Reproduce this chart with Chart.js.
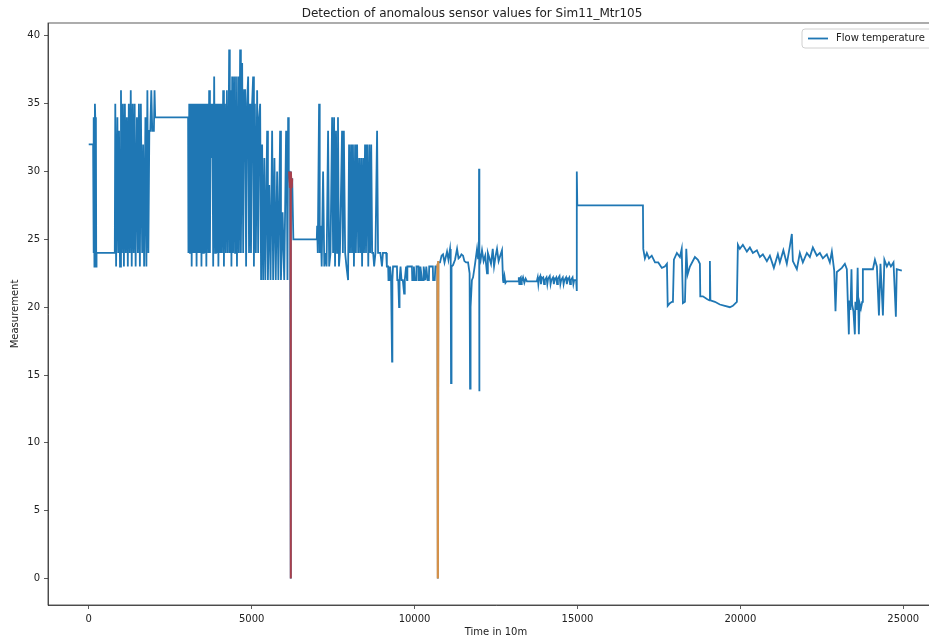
<!DOCTYPE html>
<html><head><meta charset="utf-8">
<script src="https://cdn.jsdelivr.net/npm/chart.js@4.4.1/dist/chart.umd.min.js"></script>
<style>
html,body{margin:0;padding:0;background:#fff;overflow:hidden;width:929px;height:638px}
#wrap{position:relative;width:946px;height:638px}
</style></head>
<body><div id="wrap"><canvas id="c"></canvas></div>
<script>
const chartTitle = 'Detection of anomalous sensor values for Sim11_Mtr105';
const xAxisLabel = 'Time in 10m';
const yAxisLabel = 'Measurement';
const seriesLabel = 'Flow temperature';
const xTickValues = [0, 5000, 10000, 15000, 20000, 25000];
const yTickValues = [0, 5, 10, 15, 20, 25, 30, 35, 40];

const flowSegA = [[0,32],[135,32],[145,24],[160,34],[175,23],[190,35],[205,33.5],[220,34],[230,23],[240,24],[800,24]];
const flowSegB = [[815,35],[840,23],[880,34],[905,24],[930,33],[960,23],[990,36],[1020,24],[1050,35],[1080,23],[1110,35],[1140,24],[1170,34],[1200,23],[1230,35],[1260,24],[1290,36],[1320,23],[1350,35],[1380,24],[1410,35],[1440,23],[1480,34],[1510,24],[1540,35],[1570,23],[1600,35],[1640,24],[1670,32],[1700,23],[1740,34],[1770,23],[1800,36],[1830,24],[1860,33],[1890,33],[1920,36],[1950,33],[2000,33],[2020,36],[2040,34],[3050,34]];
const flowSegC = [[3060,24],[3085,35],[3110,24],[3135,35],[3160,23],[3185,35],[3210,24],[3235,35],[3260,24],[3285,35],[3310,23],[3335,35],[3360,24],[3385,35],[3410,24],[3435,35],[3460,23],[3485,35],[3510,24],[3535,35],[3560,24],[3585,35],[3610,23],[3640,35],[3670,24],[3696,36],[3720,24],[3745,35],[3770,31],[3795,35],[3820,23],[3850,37],[3880,24],[3905,35],[3930,24],[3955,35],[3980,23],[4010,35],[4035,24],[4060,35],[4090,24],[4126,36],[4150,23],[4180,35],[4210,24],[4240,36],[4270,24],[4310,39],[4330,24],[4360,36],[4380,23],[4402,37],[4430,24],[4460,37],[4490,24],[4520,37],[4550,23],[4586,37],[4610,24],[4647,39],[4670,24],[4709,38],[4740,24],[4770,36],[4801,36],[4830,23],[4860,35],[4893,37],[4920,24],[4950,35],[4980,24],[5015,35],[5046,37],[5070,23],[5100,35],[5130,24],[5169,36],[5200,24],[5230,34],[5261,35],[5290,22],[5322,32],[5353,22],[5390,31],[5420,22],[5476,33],[5500,22],[5540,29],[5580,22],[5629,33],[5660,22],[5700,31],[5740,22],[5782,30],[5820,22],[5874,33],[5900,22],[5950,27],[6000,22],[6058,33],[6080,30],[6100,22],[6120,34],[6140,30]];
const flowSegD = [[6160,30],[6180,28.8],[6195,30],[6200,0],[6205,30],[6230,28.8],[6245,29.5],[6280,25],[7000,25]];
const flowSegE = [[7010,26],[7030,24],[7070,35],[7090,24],[7120,26],[7150,23],[7193,30],[7230,23],[7270,24],[7300,23],[7346,33],[7380,23],[7420,24],[7470,34],[7500,24],[7530,34],[7560,23],[7590,33],[7620,24],[7650,34],[7680,23],[7710,24],[7775,33],[7800,24],[7830,33],[7870,24],[7910,23],[7960,22],[7990,32],[8020,24],[8050,32],[8080,24],[8110,32],[8140,23],[8175,32],[8200,24],[8237,32],[8270,24],[8300,31],[8330,24],[8360,31],[8390,23],[8420,31],[8450,24],[8480,32],[8510,24],[8545,32],[8580,23],[8610,32],[8640,24],[8670,32],[8700,24],[8730,24],[8760,23],[8800,24],[8850,33],[8880,24],[8950,24],[9000,23],[9030,24],[9130,24],[9150,23]];
const flowSegF = [[9190,23],[9200,22],[9240,22],[9250,23],[9280,22],[9310,16],[9320,22],[9340,23],[9460,23],[9470,22],[9500,22],[9525,20],[9540,22],[9570,23],[9600,22],[9640,22],[9680,21],[9700,22],[9740,23],[9770,22],[9780,23],[9920,23],[9930,22],[9970,22],[9980,23],[10010,22],[10050,22],[10060,23],[10120,23],[10130,22],[10170,22],[10180,23],[10230,22],[10270,22],[10280,23],[10330,22],[10360,23],[10400,22],[10440,22],[10450,23],[10560,23],[10570,22],[10620,22],[10640,23],[10700,23],[10715,0],[10730,23.3]];
const flowSegG = [[10782,23.3],[10830,23.8],[10874,23.9],[10920,23.3],[10997,24.1],[11040,23.5],[11090,24.3],[11110,23.5],[11120,14.4],[11135,23],[11180,23.1],[11243,23.5],[11305,24.3],[11350,23.6],[11397,23.7],[11440,23.9],[11489,23.8],[11530,23.4],[11581,23.3],[11643,23.3],[11690,22.5],[11704,14.0],[11720,20],[11760,22],[11796,22.2],[11857,23.2],[11918,24.3],[11949,23.6],[11975,24],[11980,30.2],[11985,13.8],[11995,24],[12030,23.5],[12071,24.2],[12120,23.4],[12170,23.8],[12224,22.5],[12250,24],[12300,23.6],[12347,23.2],[12400,24.3],[12440,23],[12490,23.8],[12531,24.3],[12580,23.4],[12630,23.8],[12684,24.2],[12715,22]];
const flowSegH = [[12730,21.8],[12760,22.3],[12790,21.8],[12820,21.9],[13180,21.9],[13200,22.2],[13215,21.7],[13230,22.1],[13260,22.2],[13275,21.7],[13290,21.9],[13330,22.2],[13370,21.8],[13410,22.1],[13450,21.9],[13750,21.9],[13780,22.2],[13800,21.7],[13820,22.1],[13860,22.3],[13880,21.7],[13900,22.1],[13950,22.2],[13975,21.7],[14000,22.0],[14050,22.2],[14075,21.7],[14100,22.1],[14150,22.3],[14175,21.7],[14200,22.0],[14250,22.2],[14275,21.7],[14300,22.0],[14350,22.2],[14375,21.7],[14400,22.1],[14450,22.3],[14475,21.7],[14500,22.0],[14550,22.2],[14575,21.7],[14600,22.0],[14650,22.2],[14675,21.7],[14700,22.0],[14750,22.2],[14775,21.7],[14800,22.0],[14850,22.2],[14875,21.7],[14900,22.0],[14960,22.0],[14975,21.2],[14985,30.0],[14995,27.5],[17010,27.5]];
const flowSegI = [[17020,24.3],[17070,23.6],[17130,24],[17195,23.6],[17280,23.8],[17380,23.3],[17480,23.3],[17590,22.9],[17680,23],[17746,23.2],[17770,20.1],[17837,20.3],[17900,20.4],[17930,20.4],[17960,23.5],[18052,24],[18145,23.7],[18200,24.3],[18237,20.3],[18300,20.4],[18340,24.3],[18380,22.4],[18452,23],[18605,23.7],[18697,23.5],[18758,23.2],[18770,20.8],[18850,20.8],[18973,20.6],[19050,20.5],[19065,23.4],[19080,20.5],[19218,20.4],[19371,20.2],[19524,20.1],[19678,20.0],[19770,20.1],[19893,20.4],[19924,24.6],[19985,24.3],[20077,24.6],[20200,24.1],[20292,24.4],[20384,24.0],[20507,24.2],[20599,23.7],[20691,23.9],[20814,23.4],[20906,23.8],[21028,22.9],[21151,23.9],[21212,23.3],[21320,24.2],[21426,23.2],[21520,24.5],[21580,25.4],[21611,23.4],[21734,22.8],[21826,24.0],[21918,23.3],[22041,24.0],[22133,23.7],[22225,24.4],[22348,23.8],[22440,24.0],[22532,23.6],[22654,23.9],[22746,23.3],[22808,24.1],[22880,22.7],[22920,19.7],[22961,22.6],[23115,22.9],[23207,23.2],[23268,22.8],[23300,20.2],[23330,18.0],[23345,20.5],[23380,19.8],[23410,22.8],[23430,20.2],[23470,19.7],[23514,18.0],[23530,20.4],[23570,19.8],[23600,22.9],[23620,20.1],[23637,18.0],[23660,20.3],[23700,19.9],[23740,20.4],[23760,22.8],[24068,22.8],[24130,23.5],[24190,23],[24253,19.4],[24300,23.2],[24375,19.4],[24420,23.5],[24497,23.0],[24560,23.3],[24620,23.0],[24700,23.3],[24773,19.3],[24800,22.8],[24955,22.7]];

const flowTemperature = [].concat(flowSegA, flowSegB, flowSegC, flowSegD, flowSegE, flowSegF, flowSegG, flowSegH, flowSegI);
const anomalyRed = [[6150,30],[6175,28.8],[6195,30],[6200,0],[6205,30],[6230,28.8],[6245,29.5]];
const anomalyOrange = [[10705,23.2],[10715,0],[10728,23.4]];

const toXY = arr => arr.map(p => ({x: p[0], y: p[1]}));
const FONT = 'DejaVu Sans';
const BLUE = '#1f77b4';

const framePlugin = {
  id: 'frame',
  afterDatasetsDraw(chart) {
    const {ctx, chartArea: a} = chart;
    ctx.save();
    ctx.strokeStyle = '#333';
    ctx.lineWidth = 0.8;
    ctx.strokeRect(a.left, a.top, a.right - a.left, a.bottom - a.top);
    // legend box (upper right, inside the axes)
    const bx = 802, by = 29, bw = 150, bh = 19, r = 3;
    ctx.fillStyle = 'rgba(255,255,255,0.85)';
    ctx.strokeStyle = '#d0d0d0';
    ctx.lineWidth = 1;
    ctx.beginPath();
    ctx.moveTo(bx + r, by);
    ctx.lineTo(bx + bw - r, by);
    ctx.quadraticCurveTo(bx + bw, by, bx + bw, by + r);
    ctx.lineTo(bx + bw, by + bh - r);
    ctx.quadraticCurveTo(bx + bw, by + bh, bx + bw - r, by + bh);
    ctx.lineTo(bx + r, by + bh);
    ctx.quadraticCurveTo(bx, by + bh, bx, by + bh - r);
    ctx.lineTo(bx, by + r);
    ctx.quadraticCurveTo(bx, by, bx + r, by);
    ctx.closePath();
    ctx.fill();
    ctx.stroke();
    const ds = chart.data.datasets[0];
    ctx.strokeStyle = ds.borderColor;
    ctx.lineWidth = 1.8;
    ctx.beginPath();
    ctx.moveTo(808, by + bh / 2);
    ctx.lineTo(828, by + bh / 2);
    ctx.stroke();
    ctx.fillStyle = '#222';
    ctx.font = '10px "' + FONT + '"';
    ctx.textBaseline = 'middle';
    ctx.textAlign = 'left';
    ctx.fillText(ds.label, 836, by + bh / 2);
    ctx.restore();
  }
};

new Chart(document.getElementById('c'), {
  type: 'line',
  data: {
    datasets: [
      {label: seriesLabel, data: toXY(flowTemperature), borderColor: BLUE, borderWidth: 1.8, pointRadius: 0, tension: 0, order: 3},
      {label: 'anomaly 1', data: toXY(anomalyRed), borderColor: '#a8404c', borderWidth: 2, pointRadius: 0, tension: 0, order: 2},
      {label: 'anomaly 2', data: toXY(anomalyOrange), borderColor: '#d69148', borderWidth: 2.2, pointRadius: 0, tension: 0, order: 1}
    ]
  },
  options: {
    responsive: true,
    maintainAspectRatio: false,
    animation: false,
    events: [],
    layout: {padding: {left: 0, right: 2, top: 0, bottom: 0}},
    plugins: {
      legend: {display: false},
      tooltip: {enabled: false},
      title: {display: true, text: chartTitle, color: '#222', font: {family: FONT, size: 12, weight: 'normal'}, padding: {top: 7, bottom: 1.6}}
    },
    scales: {
      x: {
        type: 'linear', min: -1250, max: 26250,
        afterFit(s) { s.height = 33; },
        afterBuildTicks(s) { s.ticks = xTickValues.map(v => ({value: v})); },
        ticks: {callback: v => String(v), color: '#222', font: {family: FONT, size: 10}, padding: 4, maxRotation: 0, autoSkip: false},
        grid: {display: true, drawOnChartArea: false, drawTicks: true, tickLength: 4, color: '#333', lineWidth: 0.8},
        border: {display: true, color: '#333', width: 0.8},
        title: {display: true, text: xAxisLabel, color: '#222', font: {family: FONT, size: 10}, padding: {top: 0, bottom: 0}}
      },
      y: {
        type: 'linear', min: -1.95, max: 40.95,
        afterFit(s) { s.width = 48; },
        afterBuildTicks(s) { s.ticks = yTickValues.map(v => ({value: v})); },
        ticks: {callback: v => String(v), color: '#222', font: {family: FONT, size: 10}, padding: 4, autoSkip: false},
        grid: {display: true, drawOnChartArea: false, drawTicks: true, tickLength: 4, color: '#333', lineWidth: 0.8},
        border: {display: true, color: '#333', width: 0.8},
        title: {display: true, text: yAxisLabel, color: '#222', font: {family: FONT, size: 10}, padding: {top: 9, bottom: 0}}
      }
    }
  },
  plugins: [framePlugin]
});
</script>
</body></html>
